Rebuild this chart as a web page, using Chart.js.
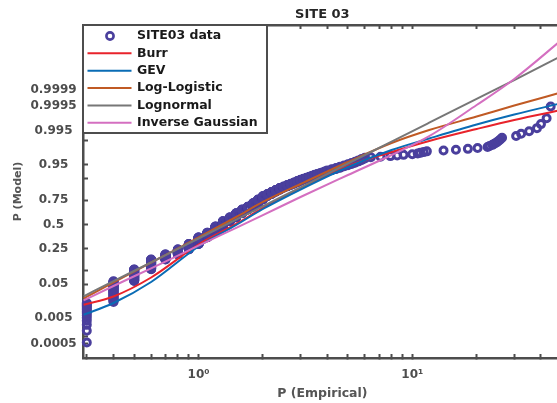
<!DOCTYPE html>
<html>
<head>
<meta charset="utf-8">
<script src="https://cdn.jsdelivr.net/npm/chart.js@4.4.1/dist/chart.umd.min.js"></script>
<style>
  html, body { margin: 0; padding: 0; background: #fff; overflow: hidden; }
  #wrap { width: 575px; height: 403px; }
</style>
</head>
<body>
<div id="wrap"><canvas id="probPlot" width="575" height="403"></canvas></div>
<script>
// sample values (mm) and how many observations sit at each value
const sampleValues = [
  0.3, 0.4, 0.5, 0.6, 0.7, 0.8, 0.9, 1.0, 1.1, 1.2, 1.3, 1.4, 1.5, 1.6, 1.7, 1.8, 1.9,
  2.0, 2.1, 2.2, 2.3, 2.4, 2.5, 2.6, 2.7, 2.8, 2.9, 3.0, 3.1, 3.2, 3.3, 3.4, 3.5, 3.6,
  3.7, 3.8, 3.9, 4.0, 4.2, 4.4, 4.6, 4.8, 5.0, 5.2, 5.4, 5.6, 5.8, 6.0,
  6.4, 7.1, 7.9, 8.5, 9.1, 10.0, 10.6, 10.9, 11.3, 11.7, 14.0, 16.0, 18.2, 20.2, 22.5,
  23.0, 23.7, 24.2, 24.8, 25.3, 25.8, 26.3, 30.6, 32.3, 35.2, 38.3, 40.0, 42.5, 44.4,
];
const sampleCounts = [
  14, 39, 44, 53, 34, 37, 44, 60, 45, 60, 52, 38, 40, 34, 26, 30, 30,
  25, 15, 15, 13, 12, 8, 8, 7, 7, 7, 6, 5, 4, 4, 4, 4, 3,
  3, 3, 3, 3, 4, 4, 4, 3, 3, 3, 3, 3, 3, 2,
  1, 1, 1, 1, 1, 1, 1, 1, 1, 1, 1, 1, 1, 1, 1,
  1, 1, 1, 1, 1, 1, 1, 1, 1, 1, 1, 1, 1, 1,
];

// fitted distributions, probability at each x
const fitX = [0.29, 0.4, 0.6, 1, 1.5, 2, 3, 5, 8, 12, 20, 30, 50];
const burrP = [0.0133, 0.0234, 0.0716, 0.2904, 0.5056, 0.6758, 0.8433, 0.947, 0.97741, 0.98947, 0.99583, 0.99806, 0.99922];
const gevP = [0.00632, 0.01504, 0.0561, 0.2716, 0.4944, 0.6657, 0.8332, 0.9439, 0.9802, 0.99125, 0.99713, 0.99881, 0.9996];
const logLogisticP = [0.0205, 0.0546, 0.1469, 0.3598, 0.582, 0.733, 0.8684, 0.9579, 0.98781, 0.99547, 0.99857, 0.99949, 0.99987];
const lognormalP = [0.0237, 0.0587, 0.1476, 0.3494, 0.5537, 0.6936, 0.848, 0.954, 0.98899, 0.99754, 0.99974, 0.999967, 0.9999984];
const invGaussP = [0.0181, 0.0447, 0.1131, 0.279, 0.4637, 0.6026, 0.7764, 0.9142, 0.97257, 0.99268, 0.999518, 0.999971, 0.99999983];

// axes
const yTickProbs = [0.0005, 0.001, 0.005, 0.01, 0.05, 0.1, 0.25, 0.5, 0.75, 0.9, 0.95, 0.99, 0.995, 0.999, 0.9995, 0.9999];
const yTickLabels = ["0.0005", "", "0.005", "", "0.05", "", "0.25", "0.5", "0.75", "", "0.95", "", "0.995", "", "0.9995", "0.9999"];
const xTickValues = [0.3, 0.4, 0.5, 0.6, 0.7, 0.8, 0.9, 1, 2, 3, 4, 5, 6, 7, 8, 9, 10, 20, 30, 40, 50];
const xLabelValues = [1, 10];
const xLabelTexts = ["10\u2070", "10\u00b9"];

(() => {
  const FONT = "DejaVu Sans";
  const AXIS = "#4d4d4d";

  // inverse normal cdf (Acklam)
  function probit(p) {
    const a = [-39.69683028665376, 220.9460984245205, -275.9285104469687, 138.357751867269, -30.66479806614716, 2.506628277459239];
    const b = [-54.47609879822406, 161.5858368580409, -155.6989798598866, 66.80131188771972, -13.28068155288572];
    const c = [-0.007784894002430293, -0.3223964580411365, -2.400758277161838, -2.549732539343734, 4.374664141464968, 2.938163982698783];
    const d = [0.007784695709041462, 0.3224671290700398, 2.445134137142996, 3.754408661907416];
    const tail = (q) =>
      (((((c[0] * q + c[1]) * q + c[2]) * q + c[3]) * q + c[4]) * q + c[5]) /
      ((((d[0] * q + d[1]) * q + d[2]) * q + d[3]) * q + 1);
    if (p < 0.02425) return tail(Math.sqrt(-2 * Math.log(p)));
    if (p > 1 - 0.02425) return -tail(Math.sqrt(-2 * Math.log(1 - p)));
    const q = p - 0.5;
    const r = q * q;
    return (
      ((((((a[0] * r + a[1]) * r + a[2]) * r + a[3]) * r + a[4]) * r + a[5]) * q) /
      (((((b[0] * r + b[1]) * r + b[2]) * r + b[3]) * r + b[4]) * r + 1)
    );
  }

  // plotting positions (i - 0.5) / n, as probplot does
  function empiricalPoints() {
    const n = sampleCounts.reduce((s, c) => s + c, 0);
    const pts = [];
    let rank = 0;
    sampleValues.forEach((v, i) => {
      for (let k = 0; k < sampleCounts[i]; k++) {
        rank++;
        pts.push({ x: v, y: probit((rank - 0.5) / n) });
      }
    });
    return pts;
  }

  const fitLine = (label, probs, color, order) => ({
    label,
    data: fitX.map((x, i) => ({ x, y: probit(probs[i]) })),
    showLine: true,
    borderColor: color,
    borderWidth: 2,
    pointRadius: 0,
    cubicInterpolationMode: "monotone",
    order,
  });

  const datasets = [
    {
      label: "SITE03 data",
      data: empiricalPoints(),
      pointStyle: "circle",
      pointRadius: 3.5,
      pointBorderWidth: 3,
      borderColor: "#4a3f9d",
      backgroundColor: "rgba(0,0,0,0)",
      clip: false,
      order: 6,
    },
    fitLine("Burr", burrP, "#e8232b", 5),
    fitLine("GEV", gevP, "#0a6cb5", 4),
    fitLine("Log-Logistic", logLogisticP, "#c05a24", 3),
    fitLine("Lognormal", lognormalP, "#777777", 2),
    fitLine("Inverse Gaussian", invGaussP, "#d46fc0", 1),
  ];

  const legendBox = {
    id: "legendBox",
    afterDraw(chart) {
      const { ctx, chartArea } = chart;
      const x0 = chartArea.left;
      const y0 = chartArea.top;
      ctx.save();
      ctx.fillStyle = "#ffffff";
      ctx.fillRect(x0, y0, 184, 108);
      ctx.lineWidth = 2;
      ctx.strokeStyle = AXIS;
      ctx.strokeRect(x0, y0, 184, 108);
      ctx.font = `bold 12.5px '${FONT}'`;
      ctx.textBaseline = "middle";
      chart.data.datasets.forEach((ds, i) => {
        const y = y0 + 11 + i * 17.35;
        ctx.strokeStyle = ds.borderColor;
        ctx.beginPath();
        if (ds.showLine) {
          ctx.lineWidth = 2;
          ctx.moveTo(x0 + 4.5, y);
          ctx.lineTo(x0 + 48.5, y);
        } else {
          ctx.lineWidth = 2.6;
          ctx.arc(x0 + 27, y, 3.6, 0, Math.PI * 2);
        }
        ctx.stroke();
        ctx.fillStyle = "#1a1a1a";
        ctx.fillText(ds.label, x0 + 54, y);
      });
      ctx.restore();
    },
  };

  const logTicks = (scale) => {
    scale.ticks = xTickValues.map((v) => ({ value: v }));
  };

  const axisGrid = (len) => ({
    drawOnChartArea: false,
    drawTicks: true,
    tickLength: len,
    tickWidth: 2,
    tickColor: AXIS,
  });

  new Chart(document.getElementById("probPlot"), {
    type: "scatter",
    data: { datasets },
    plugins: [legendBox],
    options: {
      responsive: false,
      animation: false,
      events: [],
      layout: { autoPadding: false, padding: { left: 0, right: 7, top: 0, bottom: 0 } },
      plugins: {
        legend: { display: false },
        tooltip: { enabled: false },
        title: {
          display: true,
          text: "SITE 03",
          fullSize: false,
          color: "#262626",
          font: { family: FONT, size: 13, weight: "bold" },
          padding: { top: 7, bottom: 2.4 },
        },
      },
      scales: {
        x: {
          type: "logarithmic",
          position: "bottom",
          min: 0.288,
          max: 50,
          afterBuildTicks: logTicks,
          afterFit: (s) => { s.height = 45; },
          ticks: {
            autoSkip: false,
            maxRotation: 0,
            padding: 13.3,
            color: AXIS,
            font: { family: FONT, size: 12, weight: "bold" },
            callback: (v) => {
              const k = xLabelValues.indexOf(v);
              return k >= 0 ? xLabelTexts[k] : "";
            },
          },
          grid: axisGrid(-4),
          border: { color: AXIS, width: 2.5 },
          title: {
            display: true,
            text: "P (Empirical)",
            color: "#555555",
            font: { family: FONT, size: 12.5, weight: "bold" },
            padding: { top: 0, bottom: 2.2 },
          },
        },
        xTop: {
          type: "logarithmic",
          position: "top",
          min: 0.288,
          max: 50,
          afterBuildTicks: logTicks,
          afterFit: (s) => { s.height = 0; },
          ticks: { display: false },
          grid: axisGrid(-4),
          border: { color: AXIS, width: 2.5 },
        },
        y: {
          type: "linear",
          min: -3.688,
          max: 5.511,
          afterBuildTicks: (s) => {
            s.ticks = yTickProbs.map((p) => ({ value: probit(p) }));
          },
          afterFit: (s) => { s.width = 83; },
          ticks: {
            autoSkip: false,
            crossAlign: "center",
            padding: 11.3,
            color: AXIS,
            font: { family: FONT, size: 12, weight: "bold" },
            callback: (v, i) => yTickLabels[i],
          },
          grid: axisGrid(-5),
          border: { color: AXIS, width: 2.5 },
          title: {
            display: true,
            text: "P (Model)",
            color: "#555555",
            font: { family: FONT, size: 11, weight: "bold" },
            padding: { top: 11.4, bottom: 0 },
          },
        },
      },
    },
  });
})();
</script>
</body>
</html>
